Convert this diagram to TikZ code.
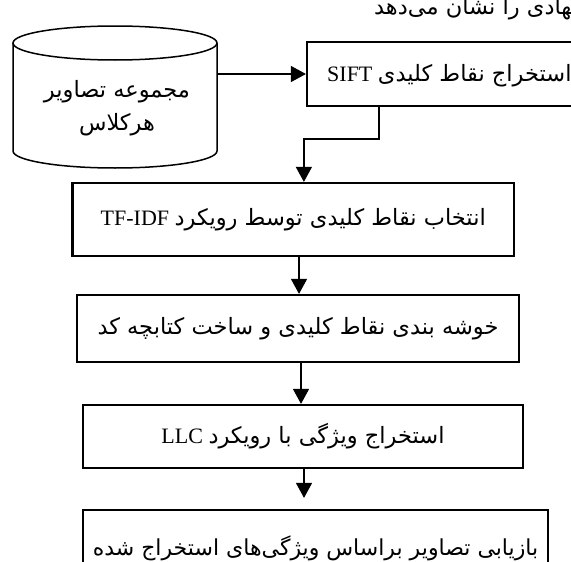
\documentclass[tikz,border=0pt]{standalone}
\usepackage{fontspec}
\setmainfont{Liberation Serif}
\newfontfamily\fa[Script=Arabic]{DejaVu Sans}
\usetikzlibrary{arrows.meta,calc}
\TeXXeTstate=1
\newcommand\fasize{\fa\fontsize{22.5}{27}\selectfont}
\newcommand\latsize{\fontsize{22}{26}\selectfont}
\tikzset{
  boxnode/.style={draw, line width=2.2pt, inner sep=0pt, font=\latsize},
  arr/.style={line width=1.3pt, -{Triangle[length=15pt,width=16pt]}},
  cylline/.style={line width=1.5pt},
  lbl/.style={inner sep=0pt, font=\latsize}
}
\begin{document}
\begin{tikzpicture}[x=1pt,y=-1pt]
\useasboundingbox (0,0) rectangle (571,562);
\clip (0,0) rectangle (571,562);
% caption fragment
\node[lbl, anchor=base east] (cap) at (572,15) {\fasize\beginR ^^^^200dهادی را نشان می^^^^200cدهد\endR};
% cylinder
\node[minimum width=204pt, minimum height=142pt, inner sep=0pt] (cyl) at (115,97) {};
\draw[cylline] (13,43) -- (13,151) arc[start angle=180,end angle=0,x radius=102,y radius=17] -- (217,43);
\draw[cylline] (115,43) ellipse[x radius=102,y radius=17];
\node[inner sep=0pt, align=center, font=\fa\fontsize{22.5}{33}\selectfont] (cyltext) at (117,108) {\beginR مجموعه تصاویر\endR\\\beginR هرکلاس\endR};
% SIFT box
\node[boxnode, minimum width=313pt, minimum height=64pt] (sift) at (463.5,74) {};
\node[lbl, anchor=base west] (siftlbl) at (327,81) {\beginR{\fasize استخراج نقاط کلیدی} \beginL SIFT\endL\endR};
% other boxes
\node[boxnode, minimum width=441.5pt, minimum height=73pt] (tf) at (293.25,219.5) {\beginR{\fasize انتخاب نقاط کلیدی توسط رویکرد} \beginL TF-IDF\endL\endR};
\node[boxnode, minimum width=442pt, minimum height=67pt] (b3) at (298,328.5) {\beginR{\fasize خوشه بندی نقاط کلیدی و ساخت کتابچه کد}\endR};
\node[boxnode, minimum width=440pt, minimum height=63pt] (b4) at (303,436.5) {\beginR{\fasize استخراج ویژگی با رویکرد} \beginL LLC\endL\endR};
\node[boxnode, minimum width=465pt, minimum height=80pt] (b5) at (315.5,550) {\raisebox{9pt}{\beginR{\fa\fontsize{22}{27}\selectfont بازیابی تصاویر براساس ویژگی^^^^200cهای استخراج شده}\endR}};
% connectors
\coordinate (k1) at (299,0);
\coordinate (k2) at (301,0);
\coordinate (k3) at (304,0);
\coordinate (s1) at ($(sift.south west)+(73,0)$);
\draw[arr] (sift.west -| cyl.east) -- (sift.west);
\draw[arr] (s1) -- ++(0,32) -| ($(tf.north west)+(232.5,0)$);
\draw[arr] (tf.south -| k1) -- (b3.north -| k1);
\draw[arr] (b3.south -| k2) -- (b4.north -| k2);
\draw[arr] (b4.south -| k3) -- ($(b5.north -| k3)+(0,-11)$);
\end{tikzpicture}
\end{document}
